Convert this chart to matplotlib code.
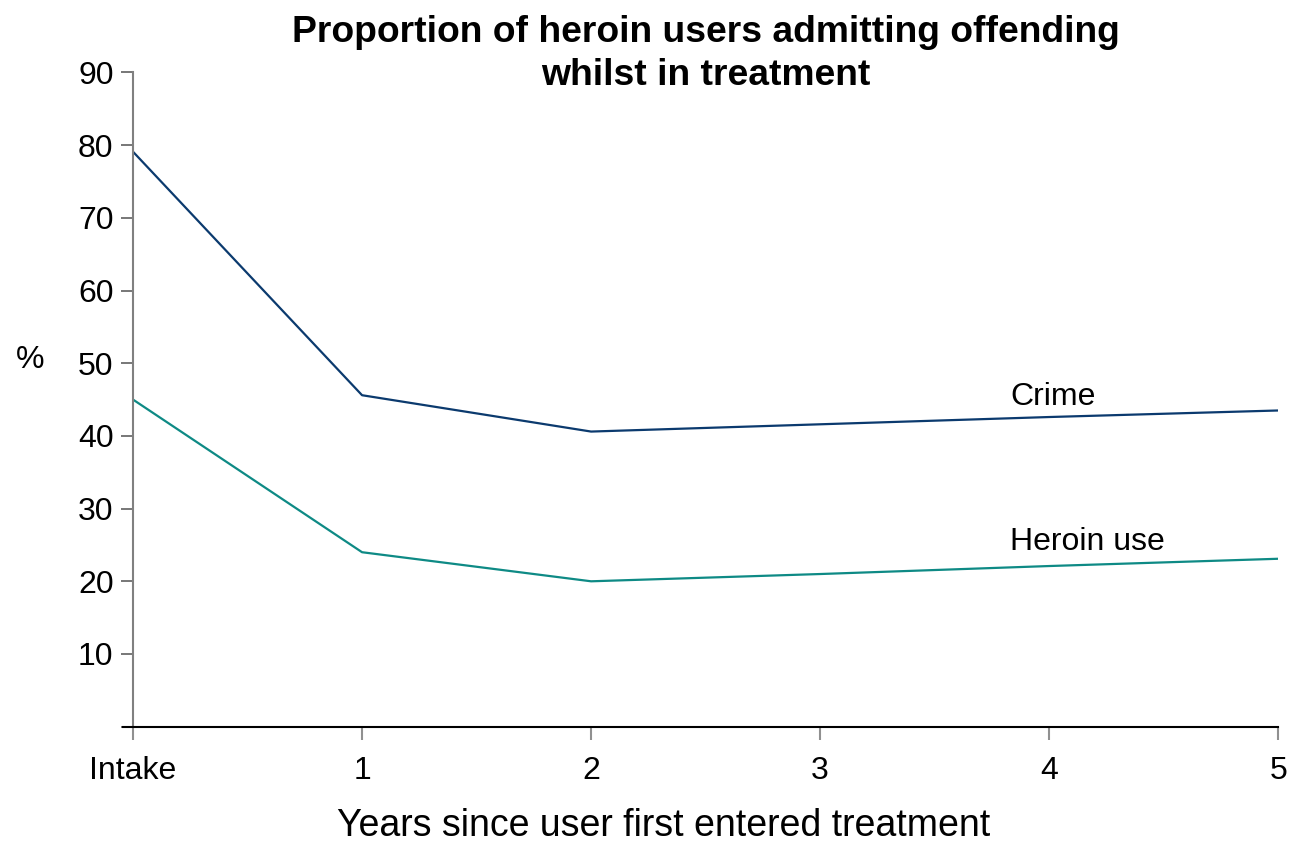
import matplotlib.pyplot as plt

plt.rcParams['font.family'] = ['Liberation Sans', 'DejaVu Sans']

# years since first entering treatment
years = [0, 1, 2, 3, 4, 5]
year_labels = ['Intake', '1', '2', '3', '4', '5']
crime = [79.1, 45.6, 40.6, 41.6, 42.6, 43.5]
heroin = [45.0, 24.0, 20.0, 21.0, 22.1, 23.1]

fig = plt.figure(figsize=(12.94, 8.43), dpi=100)
ax = fig.add_axes([0.1028, 0.138, 0.885, 0.776])

ax.plot(years, crime, color='#0B3A6E', linewidth=1.6)
ax.plot(years, heroin, color='#0E8A85', linewidth=1.6)

ax.text(3.83, 45.3, 'Crime', fontsize=23, ha='left', va='center')
ax.text(3.83, 25.4, 'Heroin use', fontsize=23, ha='left', va='center')

ax.set_xlim(0, 5)
ax.set_ylim(0, 90)
ax.set_yticks(range(0, 91, 10))
ax.set_yticklabels([''] + [str(v) for v in range(10, 91, 10)])
ax.set_xticks(years)
ax.set_xticklabels(year_labels)

for s in ['top', 'right']:
    ax.spines[s].set_visible(False)
ax.spines['left'].set_color('#808080')
ax.spines['left'].set_linewidth(1.5)
ax.spines['bottom'].set_color('black')
ax.spines['bottom'].set_linewidth(1.5)
ax.spines['bottom'].set_bounds(-0.045, 5)

ax.tick_params(axis='y', direction='out', length=9, width=1.2, color='#606060',
               labelsize=23, pad=5)
ax.tick_params(axis='x', direction='out', length=9, width=1.5, color='#909090',
               labelsize=23, pad=12)

ax.set_xlabel('Years since user first entered treatment', fontsize=27, va='center')
ax.xaxis.set_label_coords(0.463, -0.152)
ax.set_ylabel('%', fontsize=23, rotation=0, va='center')
ax.yaxis.set_label_coords(-0.09, 0.56)

ax.text(0.5, 1.028, 'Proportion of heroin users admitting offending\nwhilst in treatment',
        transform=ax.transAxes, ha='center', va='center', fontsize=26.8,
        fontweight='bold', linespacing=1.3)

fig.savefig('out.png', dpi=100)
